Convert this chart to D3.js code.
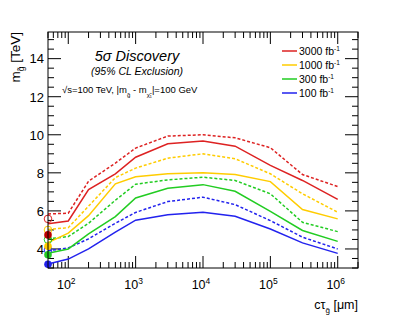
<!DOCTYPE html>
<html>
<head>
    <meta charset="UTF-8" />
    <script src="https://d3js.org/d3.v7.min.js"></script>
    <style>
        body { margin: 0; background: #fff; }
        svg { font-family: "Liberation Sans", Arial, sans-serif; }
    </style>
</head>
<body>
<svg></svg>
<script>
    let width = 399, height = 316;

    // c*tau values in micrometres
    const ctau = [50, 100, 200, 500, 1000, 3000, 10000, 30000, 100000, 300000, 1000000];

    // solid = 5 sigma discovery, dashed = 95% CL exclusion (TeV)
    const disc3000 = [5.32, 5.47, 7.12, 7.95, 8.82, 9.53, 9.67, 9.40, 8.39, 7.60, 6.61];
    const excl3000 = [5.84, 5.88, 7.56, 8.51, 9.30, 9.93, 10.0, 9.84, 9.32, 7.91, 7.28];
    const disc1000 = [4.33, 4.83, 5.75, 7.42, 7.79, 7.95, 8.00, 7.91, 7.54, 6.07, 5.58];
    const excl1000 = [5.02, 5.12, 6.25, 7.75, 8.25, 8.77, 9.00, 8.74, 7.95, 6.90, 5.93];
    const disc300 = [3.77, 4.00, 4.79, 5.70, 6.68, 7.19, 7.38, 7.03, 5.98, 4.97, 4.40];
    const excl300 = [4.53, 4.65, 5.35, 6.56, 7.40, 7.63, 7.77, 7.60, 6.90, 5.40, 4.91];
    const disc100 = [3.21, 3.47, 4.00, 4.88, 5.51, 5.80, 5.93, 5.72, 5.05, 4.32, 3.77];
    const excl100 = [3.91, 4.05, 4.53, 5.35, 5.92, 6.49, 6.72, 6.33, 5.49, 4.62, 4.00];

    // prompt reference points drawn at the first c*tau value
    const promptDisc = [4.74, 4.14, 3.70, 3.20];
    const promptExcl = [5.58, 5.00, 4.49, 3.95];

    const lumis = ["3000", "1000", "300", "100"];
    const colors = ["#dd2222", "#ffcc00", "#22cc22", "#2222ee"];
    const discSeries = [disc3000, disc1000, disc300, disc100];
    const exclSeries = [excl3000, excl1000, excl300, excl100];

    const xTickLabels = [2, 3, 4, 5, 6];
    const yTicks = [4, 6, 8, 10, 12, 14];

    let svg = d3.select("svg")
        .attr("width", width)
        .attr("height", height);

    let x = d3.scaleLog().domain([50, 2e6]).range([48, 358]);
    let y = d3.scaleLinear().domain([3, 15.4]).range([268, 32]);

    let line = d3.line()
        .x((d, i) => x(ctau[i]))
        .y(d => y(d));

    // Minor and major ticks, ROOT style (inside the frame, on all sides)
    let xMinor = [];
    for (let e = 1; e <= 6; e++) {
        for (let m = 1; m <= 9; m++) {
            let v = m * Math.pow(10, e);
            if (v >= 50 && v <= 2e6) xMinor.push(v);
        }
    }
    let ticks = svg.append("g").attr("stroke", "#000").attr("stroke-width", 1);
    xMinor.forEach(v => {
        let len = (Math.log10(v) % 1 === 0) ? 12 : 6;
        ticks.append("line").attr("x1", x(v)).attr("x2", x(v)).attr("y1", y(3)).attr("y2", y(3) - len);
        ticks.append("line").attr("x1", x(v)).attr("x2", x(v)).attr("y1", y(15.4)).attr("y2", y(15.4) + len);
    });
    for (let v = 3; v <= 15.4; v += 0.5) {
        let len = (v % 2 === 0) ? 13 : 6;
        ticks.append("line").attr("x1", x(50)).attr("x2", x(50) + len).attr("y1", y(v)).attr("y2", y(v));
        ticks.append("line").attr("x1", x(2e6)).attr("x2", x(2e6) - len).attr("y1", y(v)).attr("y2", y(v));
    }

    // Curves
    exclSeries.forEach((s, i) => {
        svg.append("path")
            .datum(s)
            .attr("fill", "none")
            .attr("stroke", colors[i])
            .attr("stroke-width", 1.5)
            .attr("stroke-dasharray", "3,2")
            .attr("d", line);
    });
    discSeries.forEach((s, i) => {
        svg.append("path")
            .datum(s)
            .attr("fill", "none")
            .attr("stroke", colors[i])
            .attr("stroke-width", 1.5)
            .attr("d", line);
    });

    // Prompt markers
    promptExcl.forEach((v, i) => {
        svg.append("circle")
            .attr("cx", x(ctau[0]))
            .attr("cy", y(v))
            .attr("r", 3.8)
            .attr("fill", "none")
            .attr("stroke", colors[i])
            .attr("stroke-width", 1);
    });
    promptDisc.forEach((v, i) => {
        svg.append("circle")
            .attr("cx", x(ctau[0]))
            .attr("cy", y(v))
            .attr("r", 3.8)
            .attr("fill", colors[i] === "#dd2222" ? "#bb0000" : colors[i]);
    });

    // Frame
    svg.append("rect")
        .attr("x", x(50)).attr("y", y(15.4))
        .attr("width", x(2e6) - x(50)).attr("height", y(3) - y(15.4))
        .attr("fill", "none").attr("stroke", "#000").attr("stroke-width", 1);

    // Y tick labels
    yTicks.forEach(v => {
        svg.append("text")
            .attr("x", 44).attr("y", y(v) + 4.8)
            .attr("text-anchor", "end")
            .attr("font-size", 13)
            .text(v);
    });

    // X tick labels 10^n
    xTickLabels.forEach(e => {
        let t = svg.append("text")
            .attr("x", x(Math.pow(10, e)) - 2).attr("y", 289)
            .attr("text-anchor", "middle")
            .attr("font-size", 12.5);
        t.append("tspan").text("10");
        t.append("tspan").attr("dy", -5).attr("font-size", 8.5).text(e);
    });

    // Axis titles
    let xt = svg.append("text")
        .attr("x", 358).attr("y", 309)
        .attr("text-anchor", "end")
        .attr("font-size", 12.5);
    xt.append("tspan").text("c\u03c4");
    xt.append("tspan").attr("dy", 4).attr("font-size", 8).text("g\u0303");
    xt.append("tspan").attr("dy", -4).text(" [\u03bcm]");

    let yt = svg.append("text")
        .attr("transform", "translate(20,32) rotate(-90)")
        .attr("text-anchor", "end")
        .attr("font-size", 13.5);
    yt.append("tspan").text("m");
    yt.append("tspan").attr("dy", 4).attr("font-size", 8.5).text("g\u0303");
    yt.append("tspan").attr("dy", -4).text(" [TeV]");

    // Header texts
    svg.append("text")
        .attr("x", 137).attr("y", 61)
        .attr("text-anchor", "middle")
        .attr("font-size", 14.5)
        .attr("font-style", "italic")
        .text("5\u03c3 Discovery");
    svg.append("text")
        .attr("x", 137).attr("y", 75)
        .attr("text-anchor", "middle")
        .attr("font-size", 10.5)
        .attr("font-style", "italic")
        .text("(95% CL Exclusion)");

    let sub = svg.append("text")
        .attr("x", 62).attr("y", 93)
        .attr("font-size", 9.5);
    sub.append("tspan").text("\u221as=100 TeV, |m");
    sub.append("tspan").attr("dy", 3.5).attr("font-size", 6).text("g\u0303");
    sub.append("tspan").attr("dy", -3.5).text(" - m");
    sub.append("tspan").attr("dy", 3.5).attr("font-size", 6).text("\u03c7\u0303\u2081");
    sub.append("tspan").attr("dy", -3.5).text("|=100 GeV");

    // Legend
    lumis.forEach((l, i) => {
        let ly = 51 + i * 14;
        svg.append("line")
            .attr("x1", 282).attr("x2", 297)
            .attr("y1", ly).attr("y2", ly)
            .attr("stroke", colors[i]).attr("stroke-width", 1.5);
        let t = svg.append("text")
            .attr("x", 299).attr("y", ly + 4)
            .attr("font-size", 10.5);
        t.append("tspan").text(l + " fb");
        t.append("tspan").attr("dy", -4).attr("font-size", 6.5).text("-1");
    });
</script>
</body>
</html>
